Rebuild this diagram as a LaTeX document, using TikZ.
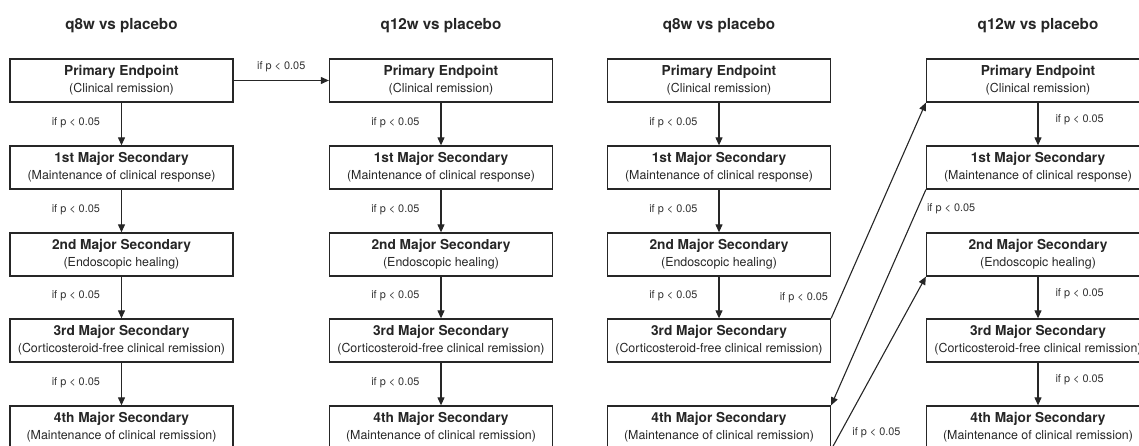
\documentclass[tikz,border=0pt]{standalone}
\usepackage{fontspec}
\setmainfont{TeX Gyre Heros}
\usetikzlibrary{arrows.meta,calc}

\tikzset{
  stepbox/.style={draw=black!85, line width=1.3pt, minimum width=223pt,
    minimum height=43pt, inner sep=0pt, align=center, text=black!85,
    font=\fontsize{12.4}{17}\selectfont},
  coltitle/.style={font=\fontsize{15.2}{18}\selectfont\bfseries, text=black!85},
  cond/.style={font=\fontsize{10.9}{13}\selectfont, text=black!80, inner sep=1pt},
  flow/.style={draw=black!85, line width=1.1pt, -{Triangle[width=7pt,length=8pt]}},
}

\newcommand\boxlines[2]{{\fontsize{13.7}{17}\selectfont\bfseries #1}\\#2}

\begin{document}
\begin{tikzpicture}[x=1pt,y=-1pt]
\clip (0,0) rectangle (1139,446);

% column headings
\node[coltitle] (ta) at (121.5,26) {q8w vs placebo};
\node[coltitle] (tb) at (441,26)   {q12w vs placebo};
\node[coltitle] (tc) at (719,26)   {q8w vs placebo};
\node[coltitle] (td) at (1038,26)  {q12w vs placebo};

% four columns of endpoint boxes
\foreach \col/\x in {a/121.5,b/441,c/719,d/1038}{
  \foreach \r/\y/\head/\sub in {
    0/80.5/Primary Endpoint/(Clinical remission),
    1/167.5/1st Major Secondary/(Maintenance of clinical response),
    2/254.5/2nd Major Secondary/(Endoscopic healing),
    3/340.5/3rd Major Secondary/(Corticosteroid-free clinical remission),
    4/427.5/4th Major Secondary/(Maintenance of clinical remission)}{
    \node[stepbox] (\col\r) at (\x,\y) {\boxlines{\head}{\sub}};
  }
}

% sequential testing, labels on the left
\foreach \col in {a,b}{
  \foreach \i/\j in {0/1,1/2,2/3,3/4}{
    \draw[flow] (\col\i) -- (\col\j)
      node[cond, midway, anchor=east, xshift=-20pt, yshift=1.5pt] {if p < 0.05};
  }
}
\foreach \i/\j in {0/1,1/2,2/3}{
  \draw[flow] (c\i) -- (c\j)
    node[cond, midway, anchor=east, xshift=-20pt, yshift=1.5pt] {if p < 0.05};
}

% sequential testing, labels on the right
\foreach \i/\j in {0/1,2/3,3/4}{
  \draw[flow] (d\i) -- (d\j)
    node[cond, midway, anchor=west, xshift=16pt, yshift=4pt] {if p < 0.05};
}

% q8w primary passes to q12w primary
\draw[flow] (a0) -- (b0)
  node[cond, midway, yshift=14pt] {if p < 0.05};

% alternating between the two doses
\draw[flow] (c3.north east) -- (d0.south west);
\node[cond, anchor=east] (l1) at ($(c3.north east)+(-2,-21)$) {if p < 0.05};

\draw[flow] (d1.south west) -- (c4.north east);
\node[cond, anchor=west] (l2) at ($(d1.south west)+(0,19)$) {if p < 0.05};

\draw[flow] (c4.south east) -- (d2.south west);
\node[cond, anchor=west] (l3) at ($(c4.south east)+(20,-17)$) {if p < 0.05};
\end{tikzpicture}
\end{document}
